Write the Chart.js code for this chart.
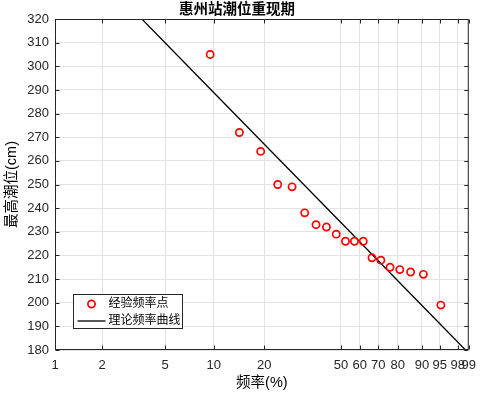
<!DOCTYPE html>
<html>
<head>
<meta charset="utf-8">
<script src="https://cdn.jsdelivr.net/npm/chart.js@4/dist/chart.umd.min.js"></script>
<style>
  html, body { margin: 0; padding: 0; background: #fff; }
  #wrap { width: 484px; height: 393px; }
</style>
</head>
<body>
<div id="wrap"><canvas id="chart-tide"></canvas></div>
<script>
/* ── Données ─────────────────────────────────────────────── */
const freqTicks = [1, 2, 5, 10, 20, 50, 60, 70, 80, 90, 95, 98, 99];
const levelMin  = 180;
const levelMax  = 320;

/* points empiriques : fréquence (%) / niveau (cm) */
const empFreq  = [9.52, 14.29, 19.05, 23.81, 28.57, 33.33, 38.10, 42.86, 47.62, 52.38,
                  57.14, 61.90, 66.67, 71.43, 76.19, 80.95, 85.71, 90.48, 95.24];
const empLevel = [305, 272, 264, 250, 249, 238, 233, 232, 229, 226,
                  226, 226, 219, 218, 215, 214, 213, 212, 199];

/* courbe théorique */
const theoFreq  = [1, 10, 50, 90, 99];
const theoLevel = [357.6, 288.9, 233.9, 198.8, 178.6];

const TEXTE = '#262626';
Chart.defaults.font.family = "'Liberation Sans', 'Noto Sans CJK SC', sans-serif";
Chart.defaults.color = TEXTE;

/* ── Échelle de fréquence (papier de Gumbel) ─────────────── */
const gumbel = p => Math.log(-Math.log(1 - p / 100));

class FrequencyScale extends Chart.LinearScale {
  static id = 'frequency';
  buildTicks() {
    return freqTicks.map(v => ({ value: v }));
  }
  configure() {
    super.configure();
    this._gStart = gumbel(this.min);
    this._gRange = gumbel(this.max) - this._gStart;
  }
  getPixelForValue(value) {
    return this.getPixelForDecimal((gumbel(value) - this._gStart) / this._gRange);
  }
  getValueForPixel(pixel) {
    const g = this._gStart + this.getDecimalForPixel(pixel) * this._gRange;
    return 100 * (1 - Math.exp(-Math.exp(g)));
  }
}
Chart.register(FrequencyScale);

/* ── Cadre, petites graduations intérieures et légende ───── */
const cadreAxes = {
  id: 'cadreAxes',
  afterDatasetsDraw(chart) {
    const { ctx, chartArea: a, scales } = chart;
    const L = a.left + 0.5, R = a.right - 0.5, T = a.top + 0.5, B = a.bottom - 0.5;
    ctx.save();
    ctx.strokeStyle = TEXTE;
    ctx.lineWidth = 1;
    ctx.beginPath();
    scales.x.ticks.forEach(t => {
      const px = Math.round(scales.x.getPixelForValue(t.value)) + 0.5;
      ctx.moveTo(px, B); ctx.lineTo(px, B - 4);
      ctx.moveTo(px, T); ctx.lineTo(px, T + 4);
    });
    scales.y.ticks.forEach(t => {
      const py = Math.round(scales.y.getPixelForValue(t.value)) + 0.5;
      ctx.moveTo(L, py); ctx.lineTo(L + 4, py);
      ctx.moveTo(R, py); ctx.lineTo(R - 4, py);
    });
    ctx.stroke();
    ctx.strokeRect(L, T, R - L, B - T);
    ctx.restore();
  },
  afterDraw(chart) {
    const { ctx, chartArea: a } = chart;
    const ds = chart.data.datasets;
    const x0 = Math.round(a.left) + 18.5, y0 = Math.round(a.bottom) - 55.5;
    const w = 109, h = 34;
    ctx.save();
    ctx.fillStyle = '#fff';
    ctx.fillRect(x0, y0, w, h);
    ctx.strokeStyle = TEXTE;
    ctx.lineWidth = 1;
    ctx.strokeRect(x0, y0, w, h);

    /* entrée 1 : cercle rouge */
    ctx.strokeStyle = ds[0].borderColor;
    ctx.lineWidth = ds[0].borderWidth;
    ctx.beginPath();
    ctx.arc(x0 + 18, y0 + 9.5, ds[0].pointRadius, 0, Math.PI * 2);
    ctx.stroke();

    /* entrée 2 : trait noir */
    ctx.strokeStyle = ds[1].borderColor;
    ctx.lineWidth = ds[1].borderWidth;
    ctx.beginPath();
    ctx.moveTo(x0 + 4, y0 + 26.5);
    ctx.lineTo(x0 + 32, y0 + 26.5);
    ctx.stroke();

    ctx.fillStyle = '#000';
    ctx.font = "12px 'Liberation Sans', 'Noto Sans CJK SC', sans-serif";
    ctx.textBaseline = 'middle';
    ctx.textAlign = 'left';
    ctx.fillText(ds[0].label, x0 + 35, y0 + 9.5);
    ctx.fillText(ds[1].label, x0 + 35, y0 + 26.5);
    ctx.restore();
  },
};

/* ── Graphique ───────────────────────────────────────────── */
const ctx = document.getElementById('chart-tide').getContext('2d');

new Chart(ctx, {
  type: 'scatter',
  data: {
    datasets: [
      {
        label          : '经验频率点',
        data           : empFreq.map((f, i) => ({ x: f, y: empLevel[i] })),
        borderColor    : '#ff0000',
        backgroundColor: 'rgba(0,0,0,0)',
        borderWidth    : 1.7,
        pointRadius    : 3.6,
        pointHoverRadius: 3.6,
        showLine       : false,
        order          : 0,
      },
      {
        label          : '理论频率曲线',
        data           : theoFreq.map((f, i) => ({ x: f, y: theoLevel[i] })),
        borderColor    : '#000000',
        borderWidth    : 1.3,
        pointRadius    : 0,
        showLine       : true,
        clip           : 0,
        order          : 1,
      },
    ],
  },
  options: {
    responsive         : true,
    maintainAspectRatio: false,
    animation          : false,
    layout             : { padding: { left: 0, right: 10, top: 0, bottom: 0 } },
    plugins: {
      legend : { display: false },
      tooltip: { enabled: false },
      title  : {
        display: true,
        text   : '惠州站潮位重现期',
        color  : '#000',
        font   : { size: 14.5, weight: 'bold', family: "'Noto Sans CJK SC', sans-serif" },
        padding: { top: 0, bottom: 1.6 },
      },
    },
    scales: {
      x: {
        type  : 'frequency',
        min   : 1,
        max   : 99,
        grid  : { color: '#e3e3e3', drawTicks: false },
        border: { display: false },
        ticks : {
          autoSkip   : false,
          maxRotation: 0,
          padding    : 8,
          font       : { size: 13 },
          callback   : v => String(v),
        },
        title : {
          display: true,
          text   : '频率(%)',
          color  : '#000',
          font   : { size: 14.5 },
          padding: { top: 0, bottom: 1.3 },
        },
        afterFit: s => { s.height = 43; },
      },
      y: {
        min   : levelMin,
        max   : levelMax,
        grid  : { color: '#e3e3e3', drawTicks: false },
        border: { display: false },
        ticks : {
          stepSize: 10,
          padding : 6,
          font    : { size: 13 },
        },
        title : {
          display: true,
          text   : '最高潮位(cm)',
          color  : '#000',
          font   : { size: 14.5 },
          padding: { top: 3.3, bottom: 0 },
        },
        afterFit: s => { s.width = 55; },
      },
    },
  },
  plugins: [cadreAxes],
});
</script>
</body>
</html>
